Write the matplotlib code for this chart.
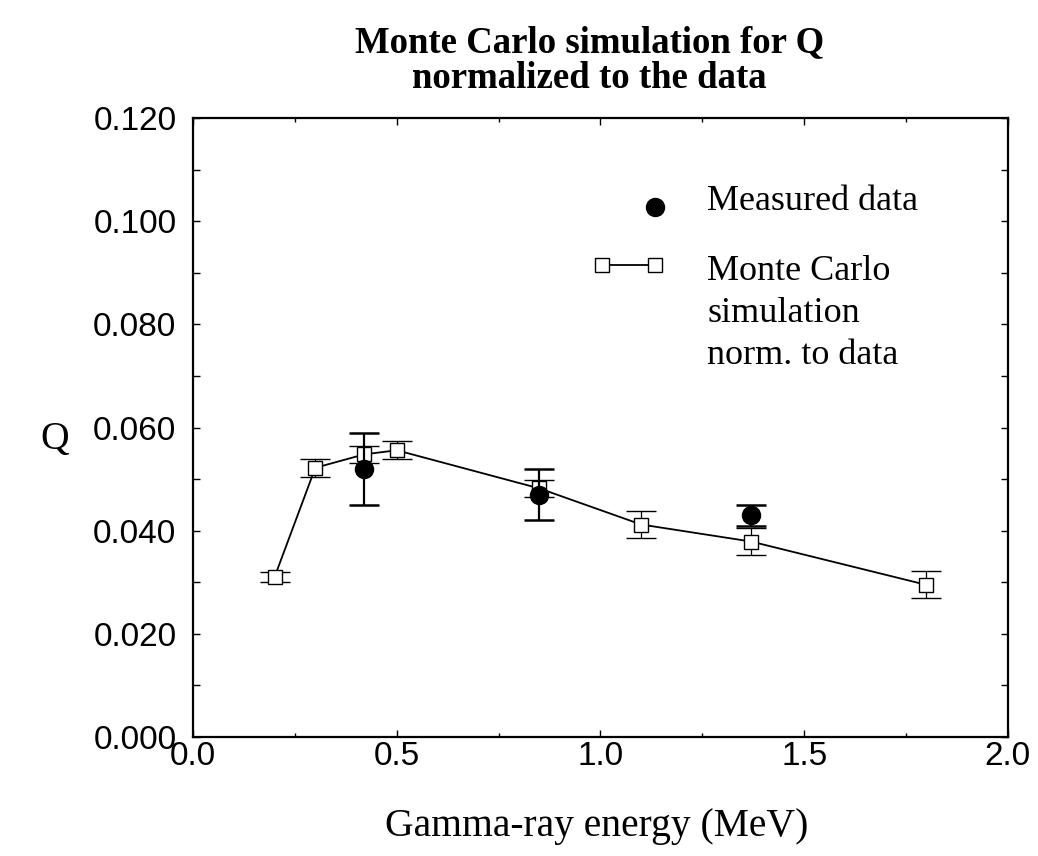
import matplotlib
matplotlib.use('Agg')
import matplotlib.pyplot as plt
from matplotlib.ticker import MultipleLocator, FormatStrFormatter

# Measured Q values
meas_e = [0.42, 0.85, 1.37]
meas_q = [0.052, 0.047, 0.043]
meas_err = [0.007, 0.005, 0.002]

# Monte Carlo simulation normalized to the data
mc_e = [0.2, 0.3, 0.42, 0.5, 0.85, 1.1, 1.37, 1.8]
mc_q = [0.031, 0.0522, 0.0548, 0.0556, 0.0482, 0.0412, 0.0379, 0.0295]
mc_err = [0.001, 0.0017, 0.0017, 0.0017, 0.0016, 0.0026, 0.0026, 0.0026]

SERIF = 'Liberation Serif'
SANS = 'Liberation Sans'

fig = plt.figure(figsize=(10.38, 8.56), dpi=100)
ax = fig.add_axes([0.186, 0.139, 0.785, 0.723])

ax.errorbar(mc_e, mc_q, yerr=mc_err, fmt='s-', color='black', lw=1.3,
            elinewidth=0.9, capsize=10.5, capthick=0.9, ms=9.5,
            mfc='white', mec='black', mew=1.0, zorder=2)
ax.errorbar(meas_e, meas_q, yerr=meas_err, fmt='o', color='black',
            elinewidth=1.6, capsize=10.5, capthick=1.8, ms=13, zorder=3)

ax.set_xlim(0.0, 2.0)
ax.set_ylim(0.0, 0.120)
ax.xaxis.set_major_locator(MultipleLocator(0.5))
ax.xaxis.set_minor_locator(MultipleLocator(0.25))
ax.yaxis.set_major_locator(MultipleLocator(0.02))
ax.yaxis.set_minor_locator(MultipleLocator(0.01))
ax.xaxis.set_major_formatter(FormatStrFormatter('%.1f'))
ax.yaxis.set_major_formatter(FormatStrFormatter('%.3f'))
ax.tick_params(which='both', direction='in', top=True, right=True, width=1.0)
ax.tick_params(which='major', length=5, labelsize=24)
ax.tick_params(which='minor', length=3)
ax.tick_params(axis='y', which='minor', length=5)
ax.tick_params(axis='y', which='major', pad=12)
ax.tick_params(axis='x', which='major', pad=3)
for lab in ax.get_xticklabels() + ax.get_yticklabels():
    lab.set_family(SANS)
for sp in ax.spines.values():
    sp.set_linewidth(1.6)

# legend drawn by hand: handle beside the first line of each entry
ax.plot([0.567], [0.856], 'o', color='black', ms=13, transform=ax.transAxes,
        clip_on=False)
ax.text(0.631, 0.851, 'Measured data', transform=ax.transAxes, family=SERIF,
        fontsize=26, va='baseline', ha='left')
ax.plot([0.502, 0.567], [0.762, 0.762], 's-', color='black', lw=1.3, ms=9.5,
        mfc='white', mec='black', mew=1.0, transform=ax.transAxes, clip_on=False)
mc_label = ['Monte Carlo', 'simulation', 'norm. to data']
for i, line in enumerate(mc_label):
    ax.text(0.631, 0.738 - i * 0.0675, line, transform=ax.transAxes,
            family=SERIF, fontsize=26, va='baseline', ha='left')

fig.text(0.568, 0.939, 'Monte Carlo simulation for Q', family=SERIF,
         fontweight='bold', fontsize=26.5, ha='center', va='baseline')
fig.text(0.568, 0.897, 'normalized to the data', family=SERIF,
         fontweight='bold', fontsize=26.5, ha='center', va='baseline')
fig.text(0.575, 0.023, 'Gamma-ray energy (MeV)', family=SERIF, fontsize=28.5,
         ha='center', va='baseline')
fig.text(0.053, 0.486, 'Q', family=SERIF, fontsize=28.5, ha='center',
         va='center')

fig.savefig('out.png', dpi=100)
